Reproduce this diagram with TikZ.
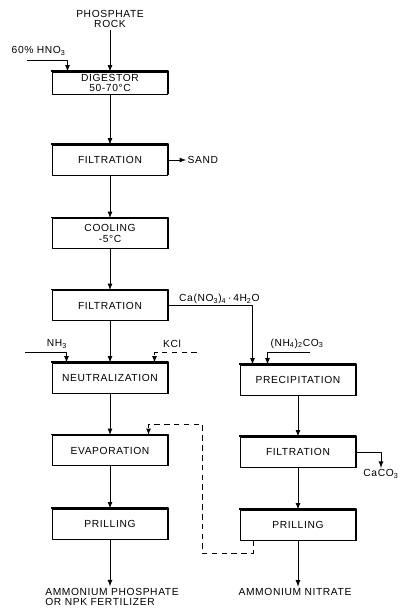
\documentclass[tikz,border=0pt]{standalone}
\usepackage{fontspec}
\setmainfont[LetterSpace=6]{Liberation Sans}
\usetikzlibrary{positioning}
\begin{document}
\begin{tikzpicture}[>=latex,line join=round,x=0.025cm,y=-0.025cm,
	font=\fontsize{7.3}{7.6}\selectfont,
	unit/.style={draw,line width=.7pt,minimum width=2.85cm,minimum height=.75cm,align=center,inner sep=1pt},
	feed/.style={align=center,inner sep=1pt},
	flow/.style={->,line width=.6pt},
	recycle/.style={->,line width=.6pt,dash pattern=on 4pt off 3pt}]
	\useasboundingbox (0,0) rectangle (400,612);
	% left train
	\node[feed] (rock) at (110,19) {PHOSPHATE\\ROCK};
	\node[unit,minimum height=.55cm] (dig) at (110,83) {DIGESTOR\\50-70°C};
	\node[unit] (filtA) at (110,160) {FILTRATION};
	\node[unit] (cool) at (110,233.5) {COOLING\\-5°C};
	\node[unit] (filtB) at (110,305.5) {FILTRATION};
	\node[unit] (neut) at (110,378) {NEUTRALIZATION};
	\node[unit] (evap) at (110,450.5) {EVAPORATION};
	\node[unit] (prilA) at (110,524) {PRILLING};
	\node[feed,align=left] (prodA) at (112,597) {AMMONIUM PHOSPHATE\\OR NPK FERTILIZER};
	% right train
	\node[unit] (prec) at (298,380) {PRECIPITATION};
	\node[unit] (filtC) at (298,452) {FILTRATION};
	\node[unit] (prilB) at (298,525) {PRILLING};
	\node[feed] (prodB) at (295,592) {AMMONIUM NITRATE};
	% side streams
	\node[feed,anchor=south west] (hno) at (10,57) {60\% HNO\textsubscript{3}};
	\node[feed,anchor=west] (sand) at (186,160) {SAND};
	\node[feed,anchor=south west] (cano) at ([xshift=.25cm]filtB.east) {Ca(NO\textsubscript{3})\textsubscript{4}\,·\,4H\textsubscript{2}O};
	\node[feed] (nhA) at (57,344) {NH\textsubscript{3}};
	\node[feed] (kcl) at (172,344) {KCl};
	\node[feed,anchor=south] (nhB) at (297,350) {(NH\textsubscript{4})\textsubscript{2}CO\textsubscript{3}};
	\node[feed] (caco) at (381,474) {CaCO\textsubscript{3}};
	\coordinate (hnoin) at (27,60);
	\coordinate (nhAin) at (25,352);
	\coordinate (kclin) at (197,352);
	\coordinate (nhBin) at (310,352);
	% heavy top and right edges
	\foreach \n in {dig,filtA,cool,filtB,neut,evap,prilA,prec,filtC,prilB}
		\draw[line width=.9pt] ([shift={(-1pt,.3pt)}]\n.north west) -- ([shift={(.3pt,.3pt)}]\n.north east) -- ([xshift=.3pt]\n.south east);
	% main flows
	\draw[flow] (rock) -- (dig);
	\foreach \a/\b in {dig/filtA,filtA/cool,cool/filtB,filtB/neut,neut/evap,evap/prilA,prec/filtC,filtC/prilB}
		\draw[flow] (\a) -- (\b);
	\draw[flow] (prilA) -- (prilA |- prodA.north);
	\draw[flow] (prilB) -- (prilB |- prodB.north);
	% feeds and by-products
	\draw[flow] (hnoin) -| ([xshift=.375cm]dig.north west);
	\draw[flow] (filtA) -- (sand);
	\draw[flow] (filtB.east) -| ([xshift=.3cm]prec.north west);
	\draw[flow] (nhAin) -| ([xshift=.35cm]neut.north west);
	\draw[recycle] (kclin) -| ([xshift=-.325cm]neut.north east);
	\draw[flow] (nhBin) -| ([xshift=.675cm]prec.north west);
	\draw[flow] (filtC.east) -| (caco.north);
	% recycle to evaporator
	\draw[recycle] ([xshift=.325cm]prilB.south west) -- ++(0,13) -| (202,424) -| ([xshift=2.4cm]evap.north west);
\end{tikzpicture}
\end{document}
